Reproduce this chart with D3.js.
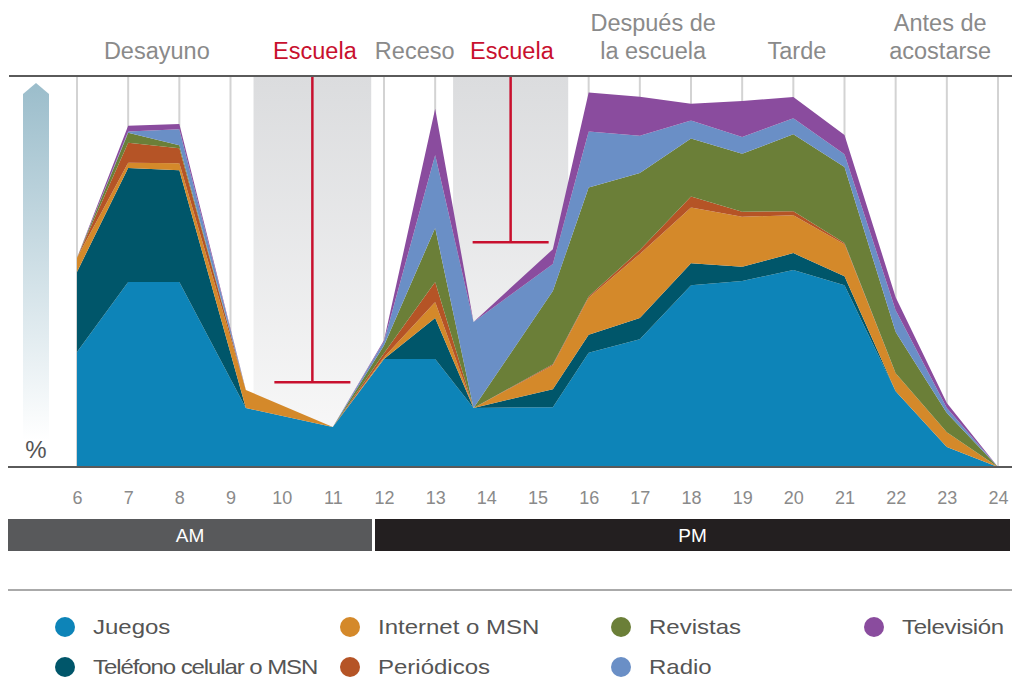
<!DOCTYPE html>
<html>
<head>
<meta charset="utf-8">
<script src="https://cdn.jsdelivr.net/npm/d3@7"></script>
<style>
  body { margin: 0; background: #fff; }
  svg { display: block; font-family: "Liberation Sans", Arial, sans-serif; }
</style>
</head>
<body>
<div id="chart-area"></div>
<script>
// Hours of the day (x positions of the vertices)
const hours = [6, 7, 8, 9.3, 11, 12, 13, 13.75, 15.3, 16, 17, 18, 19, 20, 21, 22, 23, 24];
const tickHours = d3.range(6, 25);

// Series values (percent, stacked bottom to top)
const juegos     = [29.4, 47.3, 47.3, 15.1, 10.2, 27.6, 27.6, 15.1, 15.3, 29.2, 32.7, 46.5, 47.6, 50.4, 46.5, 19.4, 5.1, 0];
const telefono   = [20.5, 29.2, 28.6, 0, 0, 0, 10.5, 0, 4.6, 4.6, 5.4, 5.6, 3.6, 4.3, 2.3, 0, 0, 0];
const internet   = [3.6, 1.3, 1.8, 4.6, 0, 0.5, 4.1, 0, 6.1, 9.5, 16.4, 14.3, 12.8, 9.7, 8.2, 4.6, 3.8, 0];
const periodicos = [0, 5.1, 3.8, 0, 0, 1.0, 5.1, 0, 0.3, 0.3, 1.0, 2.8, 1.3, 1.0, 0.3, 0, 0, 0];
const revistas   = [0, 2.6, 0.8, 0, 0, 2.0, 13.8, 0, 18.7, 27.9, 19.7, 14.8, 14.8, 19.7, 19.4, 10.5, 4.9, 0];
const radio      = [0, 0.3, 4.1, 0, 0, 1.0, 18.7, 22.0, 6.9, 14.3, 9.5, 4.6, 4.3, 4.1, 3.3, 5.6, 1.3, 0];
const television = [0, 1.5, 1.3, 0, 0, 0.3, 11.8, 0, 3.8, 10.0, 10.0, 4.3, 9.2, 5.4, 4.9, 3.3, 1.3, 0];

const seriesKeys   = ["juegos", "telefono", "internet", "periodicos", "revistas", "radio", "television"];
const seriesNames  = ["Juegos", "Teléfono celular o MSN", "Internet o MSN", "Periódicos", "Revistas", "Radio", "Televisión"];
const seriesValues = [juegos, telefono, internet, periodicos, revistas, radio, television];

// Period labels above the chart (hour where each label is centred)
const periodLabels = [["Desayuno"], ["Escuela"], ["Receso"], ["Escuela"], ["Después de", "la escuela"], ["Tarde"], ["Antes de", "acostarse"]];
const periodHours  = [7.56, 10.65, 12.6, 14.5, 17.26, 20.07, 22.87];
const periodSchool = [false, true, false, true, false, false, false];

// School blocks: shaded span in hours and the level of the marker bar
const schoolStart = [9.45, 13.35];
const schoolEnd   = [11.75, 15.6];
const schoolLevel = [21.7, 57.5];

// AM / PM band
const bandNames = ["AM", "PM"];
const bandStart = [5.3, 12];
const bandEnd   = [12, 24.2];

const colors = {
    juegos: "#0d84b8",
    telefono: "#00566a",
    internet: "#d4892a",
    periodicos: "#b55426",
    revistas: "#6b7f38",
    radio: "#6a8fc6",
    television: "#8a4c9e",
    school: "#c8102e",
    label: "#8a8a8a",
    rule: "#5a5a5a"
};

const W = 1012, H = 679;
const plot = {left: 77, right: 998, top: 76, bottom: 467};

function createChart() {
    const svg = d3.select("#chart-area")
        .append("svg")
        .attr("width", W)
        .attr("height", H);

    const defs = svg.append("defs");

    // Shaded school gradient
    const g1 = defs.append("linearGradient")
        .attr("id", "schoolGrad")
        .attr("x1", 0).attr("x2", 0).attr("y1", 0).attr("y2", 1);
    g1.append("stop").attr("offset", "0%").attr("stop-color", "#dbdcde");
    g1.append("stop").attr("offset", "100%").attr("stop-color", "#fafafa");

    // Arrow gradient
    const g2 = defs.append("linearGradient")
        .attr("id", "arrowGrad")
        .attr("x1", 0).attr("x2", 0).attr("y1", 0).attr("y2", 1);
    g2.append("stop").attr("offset", "0%").attr("stop-color", "#9bbdcb");
    g2.append("stop").attr("offset", "100%").attr("stop-color", "#ffffff");

    // Scales
    const xScale = d3.scaleLinear()
        .domain([6, 24])
        .range([plot.left, plot.right]);

    const yScale = d3.scaleLinear()
        .domain([0, 100])
        .range([plot.bottom, plot.top]);

    // Build table for the stack
    const table = hours.map((h, i) => {
        const row = {hour: h};
        seriesKeys.forEach((k, j) => row[k] = seriesValues[j][i]);
        return row;
    });

    const stacked = d3.stack().keys(seriesKeys)(table);

    // Vertical grid lines
    svg.append("g")
        .selectAll("line")
        .data(tickHours)
        .enter()
        .append("line")
        .attr("x1", d => xScale(d))
        .attr("x2", d => xScale(d))
        .attr("y1", plot.top)
        .attr("y2", plot.bottom)
        .style("stroke", "#d3d3d3")
        .style("stroke-width", 2);

    // School shaded blocks
    svg.append("g")
        .selectAll("rect")
        .data(schoolStart)
        .enter()
        .append("rect")
        .attr("x", (d, i) => xScale(d))
        .attr("width", (d, i) => xScale(schoolEnd[i]) - xScale(d))
        .attr("y", plot.top)
        .attr("height", plot.bottom - plot.top)
        .attr("fill", "url(#schoolGrad)");

    // Stacked areas
    const area = d3.area()
        .x(d => xScale(d.data.hour))
        .y0(d => yScale(d[0]))
        .y1(d => yScale(d[1]));

    svg.append("g")
        .selectAll("path")
        .data(stacked)
        .enter()
        .append("path")
        .attr("fill", d => colors[d.key])
        .attr("d", area);

    // School marker bars
    const bars = svg.append("g")
        .selectAll("g")
        .data(schoolStart)
        .enter()
        .append("g")
        .style("stroke", colors.school)
        .style("stroke-width", 2.5);

    bars.append("line")
        .attr("x1", (d, i) => xScale((d + schoolEnd[i]) / 2))
        .attr("x2", (d, i) => xScale((d + schoolEnd[i]) / 2))
        .attr("y1", plot.top)
        .attr("y2", (d, i) => yScale(schoolLevel[i]));

    bars.append("line")
        .attr("x1", (d, i) => xScale((d + schoolEnd[i]) / 2) - 38)
        .attr("x2", (d, i) => xScale((d + schoolEnd[i]) / 2) + 38)
        .attr("y1", (d, i) => yScale(schoolLevel[i]))
        .attr("y2", (d, i) => yScale(schoolLevel[i]));

    // Top and bottom rules
    svg.append("line")
        .attr("x1", 9).attr("x2", W)
        .attr("y1", plot.top).attr("y2", plot.top)
        .style("stroke", colors.rule)
        .style("stroke-width", 2);

    svg.append("line")
        .attr("x1", 8).attr("x2", W)
        .attr("y1", plot.bottom).attr("y2", plot.bottom)
        .style("stroke", colors.rule)
        .style("stroke-width", 2);

    // Period labels
    const labels = svg.append("g")
        .selectAll("text")
        .data(periodLabels)
        .enter()
        .append("text")
        .attr("text-anchor", "middle")
        .attr("x", (d, i) => xScale(periodHours[i]))
        .attr("y", d => d.length > 1 ? 31 : 59)
        .style("font-size", "23.5px")
        .style("fill", (d, i) => periodSchool[i] ? colors.school : colors.label);

    labels.selectAll("tspan")
        .data(d => d)
        .enter()
        .append("tspan")
        .attr("x", function() { return d3.select(this.parentNode).attr("x"); })
        .attr("dy", (d, i) => i === 0 ? 0 : 28)
        .text(d => d);

    // Up arrow with percent sign
    svg.append("path")
        .attr("d", "M23,94 L36,83 L49,94 L49,440 L23,440 Z")
        .attr("fill", "url(#arrowGrad)");

    svg.append("text")
        .attr("x", 36)
        .attr("y", 458)
        .attr("text-anchor", "middle")
        .style("font-size", "24px")
        .style("fill", "#555")
        .text("%");

    // X axis (hours)
    const xAxis = d3.axisBottom(xScale)
        .tickValues(tickHours)
        .tickSize(0)
        .tickPadding(0)
        .tickFormat(d3.format("d"));

    const axisG = svg.append("g")
        .attr("class", "axis x-axis")
        .attr("transform", "translate(0,491)")
        .call(xAxis);

    axisG.select(".domain").remove();
    axisG.selectAll("text")
        .attr("dy", "0.72em")
        .style("font-family", "\"Liberation Sans\", Arial, sans-serif")
        .style("font-size", "18px")
        .style("fill", colors.label);

    // AM / PM band
    const band = svg.append("g")
        .selectAll("g")
        .data(bandNames)
        .enter()
        .append("g");

    band.append("rect")
        .attr("x", (d, i) => i === 0 ? 8 : xScale(bandStart[i]) - 9)
        .attr("width", (d, i) => i === 0 ? xScale(bandEnd[i]) - 12 - 8 : W - 2 - (xScale(bandStart[i]) - 9))
        .attr("y", 519)
        .attr("height", 32)
        .attr("fill", (d, i) => i === 0 ? "#58595b" : "#231f20");

    band.append("text")
        .attr("x", (d, i) => i === 0 ? (8 + xScale(bandEnd[i]) - 12) / 2 : (xScale(bandStart[i]) - 9 + W - 2) / 2)
        .attr("y", 542)
        .attr("text-anchor", "middle")
        .style("font-size", "19px")
        .style("fill", "#fff")
        .text(d => d);

    // Separator above legend
    svg.append("line")
        .attr("x1", 8).attr("x2", W)
        .attr("y1", 590).attr("y2", 590)
        .style("stroke", "#aaaaaa")
        .style("stroke-width", 2);

    // Legend (column-major, two rows)
    const legendCols = [65, 350, 621, 874];
    const legendRows = [627, 667];
    const legendOrder = [0, 2, 4, 6, 1, 3, 5];

    const legend = svg.append("g")
        .selectAll("g")
        .data(legendOrder.map((s, i) => ({s: s, col: i % 4, row: Math.floor(i / 4)})))
        .enter()
        .append("g")
        .attr("transform", d => `translate(${legendCols[d.col]},${legendRows[d.row]})`);

    legend.append("circle")
        .attr("r", 10)
        .attr("fill", d => colors[seriesKeys[d.s]]);

    legend.append("text")
        .attr("transform", "translate(28,7) scale(1.2,1)")
        .style("font-size", "20px")
        .style("fill", "#555")
        .style("letter-spacing", d => d.s === 1 ? "-0.9px" : (d.s === 6 ? "-0.3px" : "0px"))
        .text(d => seriesNames[d.s]);
}

createChart();
</script>
</body>
</html>
